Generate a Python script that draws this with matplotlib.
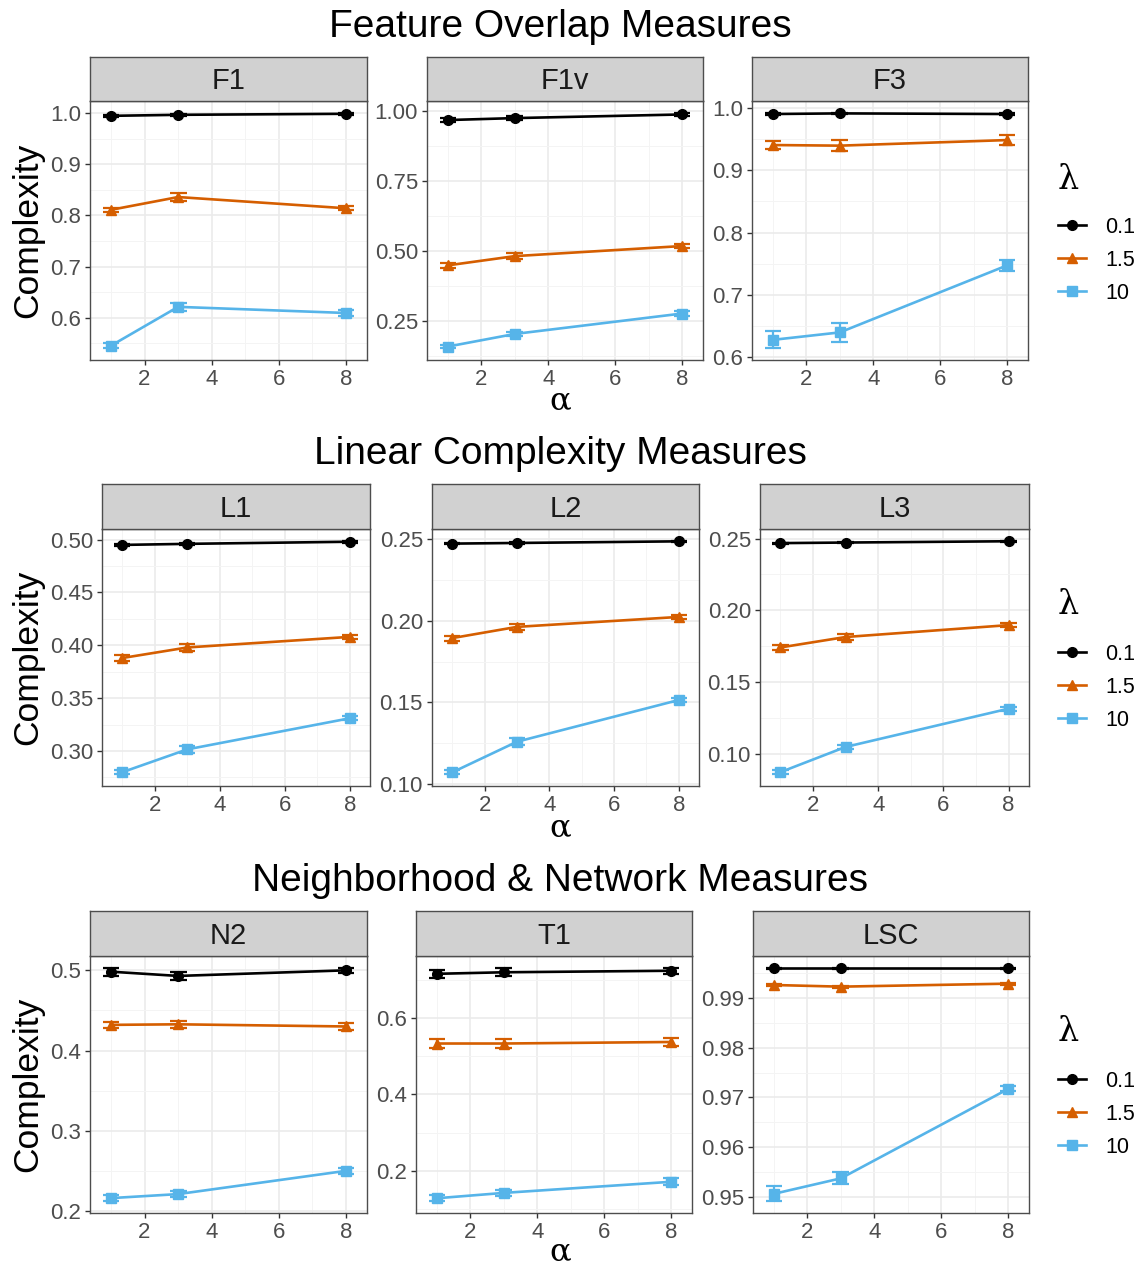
import matplotlib
matplotlib.use("Agg")
import matplotlib.pyplot as plt
from matplotlib.lines import Line2D
import numpy as np

plt.rcParams['font.family'] = ['Liberation Sans', 'DejaVu Sans']

# ---------------- data ----------------
alphas = [1, 3, 8]
lambdas = ["0.1", "1.5", "10"]
colors = ["#000000", "#D55E00", "#56B4E9"]
markers = ["o", "^", "s"]

row_titles = ["Feature Overlap Measures", "Linear Complexity Measures",
              "Neighborhood & Network Measures"]
panel_names = [["F1", "F1v", "F3"], ["L1", "L2", "L3"], ["N2", "T1", "LSC"]]

# means: one list per lambda (0.1, 1.5, 10), values at alpha = 1, 3, 8
F1_mean = [[0.995, 0.997, 0.999], [0.811, 0.836, 0.814], [0.545, 0.621, 0.609]]
F1_err = [[0.002, 0.002, 0.002], [0.004, 0.008, 0.004], [0.005, 0.008, 0.005]]
F1v_mean = [[0.968, 0.975, 0.988], [0.449, 0.482, 0.518], [0.159, 0.204, 0.277]]
F1v_err = [[0.007, 0.007, 0.006], [0.010, 0.010, 0.008], [0.006, 0.007, 0.008]]
F3_mean = [[0.991, 0.992, 0.991], [0.941, 0.940, 0.949], [0.627, 0.639, 0.747]]
F3_err = [[0.001, 0.001, 0.001], [0.006, 0.009, 0.008], [0.0135, 0.015, 0.009]]

L1_mean = [[0.495, 0.496, 0.498], [0.388, 0.398, 0.408], [0.280, 0.3016, 0.331]]
L1_err = [[0.001, 0.001, 0.001], [0.003, 0.003, 0.002], [0.002, 0.003, 0.002]]
L2_mean = [[0.2474, 0.2478, 0.2488], [0.1894, 0.1963, 0.2024], [0.107, 0.1258, 0.1514]]
L2_err = [[0.0004, 0.0004, 0.0004], [0.0015, 0.0018, 0.0013], [0.0012, 0.002, 0.0012]]
L3_mean = [[0.2468, 0.2472, 0.2481], [0.174, 0.1813, 0.1896], [0.087, 0.1046, 0.1313]]
L3_err = [[0.0004, 0.0004, 0.0004], [0.002, 0.002, 0.0015], [0.0015, 0.0015, 0.0015]]

N2_mean = [[0.4983, 0.493, 0.500], [0.432, 0.4327, 0.430], [0.216, 0.221, 0.250]]
N2_err = [[0.005, 0.005, 0.003], [0.004, 0.004, 0.004], [0.004, 0.004, 0.004]]
T1_mean = [[0.715, 0.719, 0.723], [0.533, 0.533, 0.537], [0.129, 0.143, 0.172]]
T1_err = [[0.010, 0.010, 0.008], [0.012, 0.013, 0.011], [0.008, 0.008, 0.009]]
LSC_mean = [[0.9959, 0.9959, 0.9959], [0.99253, 0.9922, 0.9928], [0.9507, 0.9538, 0.9717]]
LSC_err = [[0.0001, 0.0001, 0.0001], [0.0002, 0.0002, 0.0002], [0.0015, 0.0012, 0.0005]]

means = {"F1": F1_mean, "F1v": F1v_mean, "F3": F3_mean,
         "L1": L1_mean, "L2": L2_mean, "L3": L3_mean,
         "N2": N2_mean, "T1": T1_mean, "LSC": LSC_mean}
errs = {"F1": F1_err, "F1v": F1v_err, "F3": F3_err,
        "L1": L1_err, "L2": L2_err, "L3": L3_err,
        "N2": N2_err, "T1": T1_err, "LSC": LSC_err}

y_ticks = {"F1": [0.6, 0.7, 0.8, 0.9, 1.0], "F1v": [0.25, 0.50, 0.75, 1.00],
           "F3": [0.6, 0.7, 0.8, 0.9, 1.0],
           "L1": [0.30, 0.35, 0.40, 0.45, 0.50], "L2": [0.10, 0.15, 0.20, 0.25],
           "L3": [0.10, 0.15, 0.20, 0.25],
           "N2": [0.2, 0.3, 0.4, 0.5], "T1": [0.2, 0.4, 0.6],
           "LSC": [0.95, 0.96, 0.97, 0.98, 0.99]}
y_fmt = {"F1": "{:.1f}", "F1v": "{:.2f}", "F3": "{:.1f}", "L1": "{:.2f}",
         "L2": "{:.2f}", "L3": "{:.2f}", "N2": "{:.1f}", "T1": "{:.1f}",
         "LSC": "{:.2f}"}
x_ticks = [2, 4, 6, 8]
x_minor = [1, 3, 5, 7]

# ---------------- layout (pixels) ----------------
W, H = 1140, 1266
fig = plt.figure(figsize=(W / 100, H / 100), dpi=100)

rows_px = [(57, 101, 360), (484, 529, 786), (911, 956, 1213)]
cols_px = [[(90, 367), (427, 703), (752, 1028)],
           [(102, 370), (432, 699), (760, 1029)],
           [(90, 367), (416, 692), (753, 1029)]]
title_y = [27, 454, 881]
alpha_y = [401, 828, 1252]
lam_y = [180, 605, 1032]
legend_top = [217, 644, 1071]

BORDER = "#4D4D4D"
CAPW = 0.25
LW = 1.9
MS = 7


def fx(px):
    return px / W


def fy(py):
    return 1 - py / H


for r in range(3):
    strip_top, strip_bot, ax_bot = rows_px[r]
    for c in range(3):
        name = panel_names[r][c]
        x0, x1 = cols_px[r][c]
        ax = fig.add_axes([fx(x0), fy(ax_bot), fx(x1 - x0), (ax_bot - strip_bot) / H])
        sax = fig.add_axes([fx(x0), fy(strip_bot), fx(x1 - x0), (strip_bot - strip_top) / H])
        sax.set_facecolor("#D1D1D1")
        sax.set_xticks([])
        sax.set_yticks([])
        for s in sax.spines.values():
            s.set_color(BORDER)
            s.set_linewidth(1.0)
        sax.text(0.5, 0.45, name, ha="center", va="center", fontsize=21,
                 color="#1A1A1A", transform=sax.transAxes)

        m = np.array(means[name])
        e = np.array(errs[name])
        xa = np.array(alphas, dtype=float)
        for k in range(3):
            ax.plot(alphas, m[k], color=colors[k], lw=LW, zorder=3)
            ax.vlines(alphas, m[k] - e[k], m[k] + e[k], color=colors[k], lw=1.6, zorder=3)
            ax.hlines(m[k] - e[k], xa - CAPW, xa + CAPW, color=colors[k], lw=1.6, zorder=3)
            ax.hlines(m[k] + e[k], xa - CAPW, xa + CAPW, color=colors[k], lw=1.6, zorder=3)
            ax.plot(alphas, m[k], linestyle="none", marker=markers[k], color=colors[k],
                    markersize=MS, zorder=4)

        lo = (m - e).min()
        hi = (m + e).max()
        pad = 0.05 * (hi - lo)
        xlo = min(alphas) - CAPW
        xhi = max(alphas) + CAPW
        xpad = 0.05 * (xhi - xlo)

        yt = y_ticks[name]
        step = yt[1] - yt[0]
        ax.set_yticks(yt)
        ax.set_yticklabels([y_fmt[name].format(v) for v in yt])
        ax.set_yticks([(a + b) / 2 for a, b in zip(yt[:-1], yt[1:])] +
                      [yt[-1] + step / 2, yt[0] - step / 2], minor=True)
        ax.set_xticks(x_ticks)
        ax.set_xticks(x_minor, minor=True)
        ax.set_ylim(lo - pad, hi + pad)
        ax.set_xlim(xlo - xpad, xhi + xpad)
        ax.grid(True, which="major", color="#EBEBEB", lw=1.2, zorder=0)
        ax.grid(True, which="minor", color="#F4F4F4", lw=0.7, zorder=0)
        ax.set_axisbelow(True)
        ax.tick_params(which="major", length=3.5, width=1.0, color="#333333",
                       labelsize=16, labelcolor="#4D4D4D", pad=3)
        ax.tick_params(which="minor", length=0)
        for s in ax.spines.values():
            s.set_color(BORDER)
            s.set_linewidth(1.0)

    # row title, axis labels
    fig.text(fx(560), fy(title_y[r]), row_titles[r], ha="center", va="center",
             fontsize=28, color="#000000")
    fig.text(fx(560), fy(alpha_y[r]), "α", ha="center", va="center",
             fontsize=23, family=["DejaVu Serif"], color="#000000")
    fig.text(fx(28), fy((strip_bot + ax_bot) / 2), "Complexity", rotation=90,
             ha="center", va="center", fontsize=25.5, color="#000000")

    # legend
    fig.text(fx(1058), fy(lam_y[r]), "λ", ha="left", va="center",
             fontsize=24, family=["DejaVu Serif"], color="#000000")
    handles = [Line2D([0], [0], color=colors[k], lw=LW, marker=markers[k],
                      markersize=MS) for k in range(3)]
    fig.legend(handles, lambdas, loc="upper left",
               bbox_to_anchor=(fx(1058), fy(legend_top[r])), frameon=False,
               fontsize=15.5, handlelength=1.3, handletextpad=0.9,
               labelspacing=0.55, borderaxespad=0, borderpad=0)

fig.savefig("out.png", dpi=100)
